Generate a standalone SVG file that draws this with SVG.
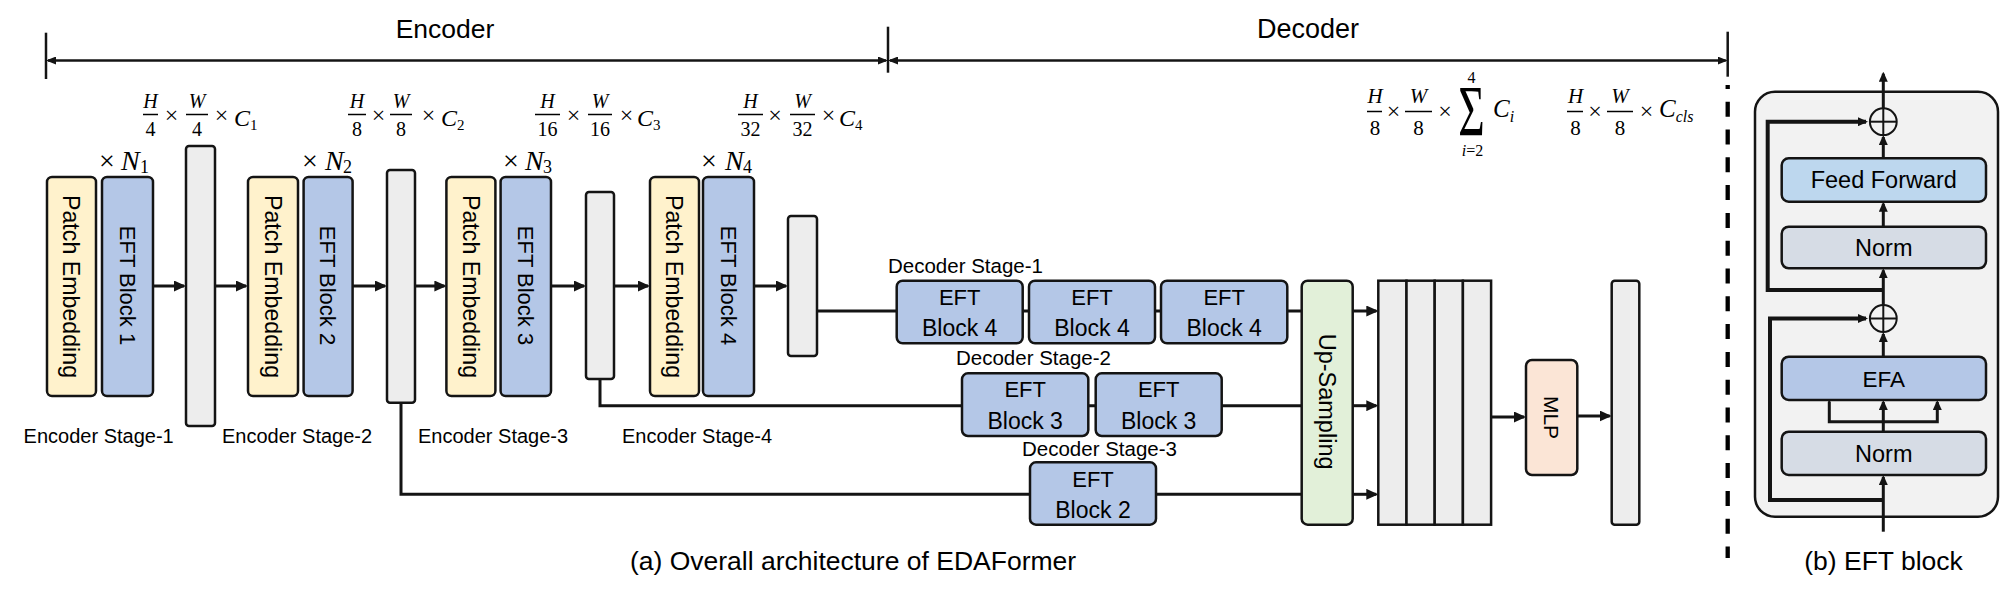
<svg xmlns="http://www.w3.org/2000/svg" width="2000" height="597" viewBox="0 0 2000 597">
<style>
.b{stroke:#141414;stroke-width:2.5}
.pe{fill:#FFF2CC}.eft{fill:#B4C7E7}.feat{fill:#EDEDED}.up{fill:#E2F0D9}.mlp{fill:#FBE5D6}.ff{fill:#BDD7EE}.nrm{fill:#D6DCE5}
.t{font-family:"Liberation Sans",Arial,sans-serif;fill:#000}
.m{font-family:"Liberation Serif","Times New Roman",serif;fill:#000}
.i{font-style:italic}
.c{stroke:#141414;stroke-width:3;fill:none}
.s{stroke:#141414;stroke-width:4;fill:none}
.fr{stroke:#000;stroke-width:1.5}
</style>
<defs>
<marker id="ah" viewBox="0 0 12 11" markerWidth="12" markerHeight="11" refX="10" refY="5.5" orient="auto" markerUnits="userSpaceOnUse"><path d="M0,0 L12,5.5 L0,11 z" fill="#141414"/></marker>
<marker id="as" viewBox="0 0 10 9" markerWidth="10" markerHeight="9" refX="8" refY="4.5" orient="auto" markerUnits="userSpaceOnUse"><path d="M0,0 L10,4.5 L0,9 z" fill="#141414"/></marker>
<marker id="ab" viewBox="0 0 10 8" markerWidth="10" markerHeight="8" refX="8" refY="4" orient="auto-start-reverse" markerUnits="userSpaceOnUse"><path d="M0,0 L10,4 L0,8 z" fill="#141414"/></marker>
</defs>
<rect width="2000" height="597" fill="#fff"/>

<!-- brackets -->
<g id="brackets">
<line x1="46" y1="32.7" x2="46" y2="79" stroke="#141414" stroke-width="2.5"/>
<line x1="888" y1="26.7" x2="888" y2="72.7" stroke="#141414" stroke-width="2.5"/>
<line x1="1727.7" y1="31.7" x2="1727.7" y2="76.7" stroke="#141414" stroke-width="2.5"/>
<line x1="48" y1="60.5" x2="886" y2="60.5" stroke="#141414" stroke-width="2.5" marker-start="url(#ab)" marker-end="url(#ab)"/>
<line x1="890" y1="60.5" x2="1725.7" y2="60.5" stroke="#141414" stroke-width="2.5" marker-start="url(#ab)" marker-end="url(#ab)"/>
<line x1="1727.7" y1="85" x2="1727.7" y2="558" stroke="#000" stroke-width="4.3" stroke-dasharray="15 12.8" stroke-dashoffset="11.1"/>
<text class="t" x="445" y="38" font-size="26.5" text-anchor="middle">Encoder</text>
<text class="t" x="1308" y="38" font-size="27" text-anchor="middle">Decoder</text>
</g>

<!-- connectors -->
<g id="connectors">
<line class="c" x1="153" y1="286" x2="184" y2="286" marker-end="url(#ah)"/>
<line class="c" x1="215" y1="286" x2="246" y2="286" marker-end="url(#ah)"/>
<line class="c" x1="353" y1="286" x2="385" y2="286" marker-end="url(#ah)"/>
<line class="c" x1="415" y1="286" x2="444.4" y2="286" marker-end="url(#ah)"/>
<line class="c" x1="551" y1="286" x2="584" y2="286" marker-end="url(#ah)"/>
<line class="c" x1="614" y1="286" x2="648" y2="286" marker-end="url(#ah)"/>
<line class="c" x1="754" y1="286" x2="786" y2="286" marker-end="url(#ah)"/>
<line class="c" x1="817" y1="311" x2="1301.7" y2="311"/>
<polyline class="c" points="600,379 600,405.7 1301.7,405.7"/>
<polyline class="c" points="401,402.7 401,494.3 1301.7,494.3"/>
<line class="c" x1="1352.7" y1="311" x2="1376.3" y2="311" marker-end="url(#ah)"/>
<line class="c" x1="1352.7" y1="405.7" x2="1376.3" y2="405.7" marker-end="url(#ah)"/>
<line class="c" x1="1352.7" y1="494.3" x2="1376.3" y2="494.3" marker-end="url(#ah)"/>
<line class="c" x1="1491" y1="417" x2="1524" y2="417" marker-end="url(#ah)"/>
<line class="c" x1="1577.3" y1="416" x2="1609.7" y2="416" marker-end="url(#ah)"/>
</g>

<!-- encoder -->
<g id="enc-stage-1">
<rect class="b pe" x="47" y="177" width="49" height="219" rx="5"/>
<text class="t" font-size="23.2" text-anchor="middle" dy="0.35em" transform="translate(71.5,286.5) rotate(90)">Patch Embedding</text>
<rect class="b eft" x="102" y="177" width="51" height="219" rx="5"/>
<text class="t" font-size="22" text-anchor="middle" dy="0.35em" transform="translate(127.5,285.5) rotate(90)">EFT Block 1</text>
<text class="m" x="99" y="170" font-size="28">×<tspan class="i" x="121">N</tspan><tspan font-size="18" x="140" y="173">1</tspan></text>
<text class="t" x="23.6" y="443" font-size="20">Encoder Stage-1</text>
</g>
<g id="feat-1"><rect class="b feat" x="186" y="146" width="29" height="280" rx="3"/></g>

<g id="enc-stage-2">
<rect class="b pe" x="248" y="177" width="50" height="219" rx="5"/>
<text class="t" font-size="23.2" text-anchor="middle" dy="0.35em" transform="translate(273,286.5) rotate(90)">Patch Embedding</text>
<rect class="b eft" x="303.6" y="177" width="49" height="219" rx="5"/>
<text class="t" font-size="22" text-anchor="middle" dy="0.35em" transform="translate(328.1,285.5) rotate(90)">EFT Block 2</text>
<text class="m" x="302" y="170" font-size="28">×<tspan class="i" x="325">N</tspan><tspan font-size="18" x="343" y="173">2</tspan></text>
<text class="t" x="222" y="443" font-size="20">Encoder Stage-2</text>
</g>
<g id="feat-2"><rect class="b feat" x="387" y="170" width="28" height="232.7" rx="3"/></g>

<g id="enc-stage-3">
<rect class="b pe" x="446.4" y="177" width="49" height="219" rx="5"/>
<text class="t" font-size="23.2" text-anchor="middle" dy="0.35em" transform="translate(470.9,286.5) rotate(90)">Patch Embedding</text>
<rect class="b eft" x="500.6" y="177" width="50.4" height="219" rx="5"/>
<text class="t" font-size="22" text-anchor="middle" dy="0.35em" transform="translate(525.8,285.5) rotate(90)">EFT Block 3</text>
<text class="m" x="503" y="170" font-size="28">×<tspan class="i" x="525">N</tspan><tspan font-size="18" x="543" y="173">3</tspan></text>
<text class="t" x="418" y="443" font-size="20">Encoder Stage-3</text>
</g>
<g id="feat-3"><rect class="b feat" x="586" y="192" width="28" height="187" rx="3"/></g>

<g id="enc-stage-4">
<rect class="b pe" x="650" y="177" width="49" height="219" rx="5"/>
<text class="t" font-size="23.2" text-anchor="middle" dy="0.35em" transform="translate(674.5,286.5) rotate(90)">Patch Embedding</text>
<rect class="b eft" x="703" y="177" width="51" height="219" rx="5"/>
<text class="t" font-size="22" text-anchor="middle" dy="0.35em" transform="translate(728.5,285.5) rotate(90)">EFT Block 4</text>
<text class="m" x="701" y="170" font-size="28">×<tspan class="i" x="725">N</tspan><tspan font-size="18" x="743" y="173">4</tspan></text>
<text class="t" x="622" y="443" font-size="20">Encoder Stage-4</text>
</g>
<g id="feat-4"><rect class="b feat" x="788" y="216" width="29" height="140" rx="3"/></g>

<!-- formulas -->
<g id="dim-1">
<text class="m i" x="150.5" y="108" font-size="20" text-anchor="middle">H</text>
<line class="fr" x1="143" y1="114.5" x2="158" y2="114.5"/>
<text class="m" x="150.5" y="136" font-size="20" text-anchor="middle">4</text>
<text class="m" x="171.5" y="123" font-size="24" text-anchor="middle">×</text>
<text class="m i" x="197" y="108" font-size="20" text-anchor="middle">W</text>
<line class="fr" x1="186" y1="114.5" x2="208" y2="114.5"/>
<text class="m" x="197" y="136" font-size="20" text-anchor="middle">4</text>
<text class="m" x="221.5" y="123" font-size="24" text-anchor="middle">×</text>
<text class="m i" x="234" y="126" font-size="24">C<tspan font-style="normal" font-size="15" dy="4">1</tspan></text>
</g>
<g id="dim-2">
<text class="m i" x="357" y="108" font-size="20" text-anchor="middle">H</text>
<line class="fr" x1="348" y1="114.5" x2="366" y2="114.5"/>
<text class="m" x="357" y="136" font-size="20" text-anchor="middle">8</text>
<text class="m" x="378.5" y="123" font-size="24" text-anchor="middle">×</text>
<text class="m i" x="401" y="108" font-size="20" text-anchor="middle">W</text>
<line class="fr" x1="390" y1="114.5" x2="412" y2="114.5"/>
<text class="m" x="401" y="136" font-size="20" text-anchor="middle">8</text>
<text class="m" x="428.5" y="123" font-size="24" text-anchor="middle">×</text>
<text class="m i" x="441" y="126" font-size="24">C<tspan font-style="normal" font-size="15" dy="4">2</tspan></text>
</g>
<g id="dim-3">
<text class="m i" x="547.5" y="108" font-size="20" text-anchor="middle">H</text>
<line class="fr" x1="535" y1="114.5" x2="560" y2="114.5"/>
<text class="m" x="547.5" y="136" font-size="20" text-anchor="middle">16</text>
<text class="m" x="573.5" y="123" font-size="24" text-anchor="middle">×</text>
<text class="m i" x="600" y="108" font-size="20" text-anchor="middle">W</text>
<line class="fr" x1="588" y1="114.5" x2="612" y2="114.5"/>
<text class="m" x="600" y="136" font-size="20" text-anchor="middle">16</text>
<text class="m" x="626.5" y="123" font-size="24" text-anchor="middle">×</text>
<text class="m i" x="637" y="126" font-size="24">C<tspan font-style="normal" font-size="15" dy="4">3</tspan></text>
</g>
<g id="dim-4">
<text class="m i" x="750.5" y="108" font-size="20" text-anchor="middle">H</text>
<line class="fr" x1="738" y1="114.5" x2="763" y2="114.5"/>
<text class="m" x="750.5" y="136" font-size="20" text-anchor="middle">32</text>
<text class="m" x="775" y="123" font-size="24" text-anchor="middle">×</text>
<text class="m i" x="802.5" y="108" font-size="20" text-anchor="middle">W</text>
<line class="fr" x1="790" y1="114.5" x2="815" y2="114.5"/>
<text class="m" x="802.5" y="136" font-size="20" text-anchor="middle">32</text>
<text class="m" x="828.5" y="123" font-size="24" text-anchor="middle">×</text>
<text class="m i" x="839" y="126" font-size="24">C<tspan font-style="normal" font-size="15" dy="4">4</tspan></text>
</g>
<g id="dim-5">
<text class="m i" x="1375" y="103" font-size="21" text-anchor="middle">H</text>
<line class="fr" x1="1367" y1="111.5" x2="1382" y2="111.5"/>
<text class="m" x="1375" y="135" font-size="21" text-anchor="middle">8</text>
<text class="m" x="1393.5" y="119" font-size="24" text-anchor="middle">×</text>
<text class="m i" x="1418.5" y="103" font-size="21" text-anchor="middle">W</text>
<line class="fr" x1="1405" y1="111.5" x2="1432" y2="111.5"/>
<text class="m" x="1418.5" y="135" font-size="21" text-anchor="middle">8</text>
<text class="m" x="1445" y="119" font-size="24" text-anchor="middle">×</text>
<text class="m" x="1471.5" y="83" font-size="16" text-anchor="middle">4</text>
<text class="m" font-size="71" text-anchor="middle" transform="translate(1471.5,135) scale(0.64,1)">Σ</text>
<text class="m" x="1472.5" y="156" font-size="16" text-anchor="middle"><tspan class="i">i</tspan>=2</text>
<text class="m i" x="1493" y="117" font-size="25">C<tspan font-size="16" dy="5">i</tspan></text>
</g>
<g id="dim-6">
<text class="m i" x="1575.5" y="103" font-size="21" text-anchor="middle">H</text>
<line class="fr" x1="1567" y1="111.5" x2="1583" y2="111.5"/>
<text class="m" x="1575.5" y="135" font-size="21" text-anchor="middle">8</text>
<text class="m" x="1595" y="119" font-size="24" text-anchor="middle">×</text>
<text class="m i" x="1620" y="103" font-size="21" text-anchor="middle">W</text>
<line class="fr" x1="1607" y1="111.5" x2="1633" y2="111.5"/>
<text class="m" x="1620" y="135" font-size="21" text-anchor="middle">8</text>
<text class="m" x="1646.5" y="119" font-size="24" text-anchor="middle">×</text>
<text class="m i" x="1659" y="117" font-size="25">C<tspan font-size="16" dy="5">cls</tspan></text>
</g>

<!-- decoder -->
<g id="dec-stage-1">
<text class="t" x="888" y="272.7" font-size="20.5">Decoder Stage-1</text>
<rect class="b eft" x="896.7" y="280.7" width="126" height="62.6" rx="6"/>
<text class="t" x="959.7" y="304.5" font-size="22" text-anchor="middle">EFT</text>
<text class="t" x="959.7" y="336" font-size="23" text-anchor="middle">Block 4</text>
<rect class="b eft" x="1029" y="280.7" width="126" height="62.6" rx="6"/>
<text class="t" x="1092" y="304.5" font-size="22" text-anchor="middle">EFT</text>
<text class="t" x="1092" y="336" font-size="23" text-anchor="middle">Block 4</text>
<rect class="b eft" x="1161" y="280.7" width="126.3" height="62.6" rx="6"/>
<text class="t" x="1224.2" y="304.5" font-size="22" text-anchor="middle">EFT</text>
<text class="t" x="1224.2" y="336" font-size="23" text-anchor="middle">Block 4</text>
</g>
<g id="dec-stage-2">
<text class="t" x="956" y="365" font-size="20.5">Decoder Stage-2</text>
<rect class="b eft" x="962" y="373.3" width="126.3" height="62.7" rx="6"/>
<text class="t" x="1025.2" y="397" font-size="22" text-anchor="middle">EFT</text>
<text class="t" x="1025.2" y="429" font-size="23" text-anchor="middle">Block 3</text>
<rect class="b eft" x="1095.7" y="373.3" width="126" height="62.7" rx="6"/>
<text class="t" x="1158.7" y="397" font-size="22" text-anchor="middle">EFT</text>
<text class="t" x="1158.7" y="429" font-size="23" text-anchor="middle">Block 3</text>
</g>
<g id="dec-stage-3">
<text class="t" x="1022" y="456" font-size="20.5">Decoder Stage-3</text>
<rect class="b eft" x="1030" y="462.3" width="126" height="62.4" rx="6"/>
<text class="t" x="1093" y="486.5" font-size="22" text-anchor="middle">EFT</text>
<text class="t" x="1093" y="517.5" font-size="23" text-anchor="middle">Block 2</text>
</g>
<g id="up-sampling">
<rect class="b up" x="1301.7" y="280.7" width="51" height="244" rx="6"/>
<text class="t" font-size="23.5" text-anchor="middle" dy="0.35em" transform="translate(1327.2,401.6) rotate(90)">Up-Sampling</text>
</g>
<g id="concat-feat">
<rect class="b feat" x="1378.3" y="280.7" width="28.2" height="244"/>
<rect class="b feat" x="1406.5" y="280.7" width="28.2" height="244"/>
<rect class="b feat" x="1434.7" y="280.7" width="28.2" height="244"/>
<rect class="b feat" x="1462.9" y="280.7" width="28.2" height="244"/>
</g>
<g id="mlp">
<rect class="b mlp" x="1526" y="360" width="51.3" height="115" rx="6"/>
<text class="t" font-size="21" text-anchor="middle" dy="0.35em" transform="translate(1551.7,417.5) rotate(90)">MLP</text>
</g>
<g id="out-feat"><rect class="b feat" x="1611.7" y="280.7" width="27.6" height="244" rx="3"/></g>

<text class="t" x="853" y="570" font-size="26.5" text-anchor="middle">(a) Overall architecture of EDAFormer</text>

<!-- EFT block panel -->
<g id="eft-panel">
<rect x="1755" y="91.7" width="243" height="425" rx="20" fill="#F2F2F2" stroke="#141414" stroke-width="2.5"/>
</g>
<g id="eft-connectors">
<line class="c" x1="1883.3" y1="531.7" x2="1883.3" y2="477" marker-end="url(#as)"/>
<polyline class="s" points="1883.3,500 1770,500 1770,318.5 1866,318.5" marker-end="url(#as)"/>
<polyline class="c" points="1829.3,402 1829.3,421.7 1937.3,421.7 1937.3,402" marker-start="url(#as)" marker-end="url(#as)"/>
<line class="c" x1="1883.3" y1="431.7" x2="1883.3" y2="402" marker-end="url(#as)"/>
<line class="c" x1="1883.3" y1="356.7" x2="1883.3" y2="334" marker-end="url(#as)"/>
<line class="c" x1="1883.3" y1="305" x2="1883.3" y2="270.3" marker-end="url(#as)"/>
<polyline class="s" points="1883.3,290 1767.7,290 1767.7,121.7 1866,121.7" marker-end="url(#as)"/>
<line class="c" x1="1883.3" y1="226.7" x2="1883.3" y2="203.7" marker-end="url(#as)"/>
<line class="c" x1="1883.3" y1="158.3" x2="1883.3" y2="137" marker-end="url(#as)"/>
<line class="c" x1="1883.3" y1="108.3" x2="1883.3" y2="73.7" marker-end="url(#as)"/>
</g>
<g id="add-1">
<circle cx="1883.3" cy="121.7" r="13.4" fill="none" stroke="#141414" stroke-width="2"/>
<line x1="1869.9" y1="121.7" x2="1896.7" y2="121.7" stroke="#141414" stroke-width="2"/>
<line x1="1883.3" y1="108.3" x2="1883.3" y2="135.1" stroke="#141414" stroke-width="2"/>
</g>
<g id="add-2">
<circle cx="1883.3" cy="318.5" r="13.4" fill="none" stroke="#141414" stroke-width="2"/>
<line x1="1869.9" y1="318.5" x2="1896.7" y2="318.5" stroke="#141414" stroke-width="2"/>
<line x1="1883.3" y1="305.1" x2="1883.3" y2="331.9" stroke="#141414" stroke-width="2"/>
</g>
<g id="feed-forward">
<rect class="b ff" x="1781.7" y="158.3" width="204.3" height="43.4" rx="7"/>
<text class="t" x="1883.8" y="188.3" font-size="23.5" text-anchor="middle">Feed Forward</text>
</g>
<g id="norm-1">
<rect class="b nrm" x="1781.7" y="226.7" width="204.3" height="41.6" rx="7"/>
<text class="t" x="1883.8" y="255.5" font-size="23.5" text-anchor="middle">Norm</text>
</g>
<g id="efa">
<rect class="b eft" x="1781.7" y="356.7" width="204.3" height="43.3" rx="7"/>
<text class="t" x="1883.8" y="386.7" font-size="22.5" text-anchor="middle">EFA</text>
</g>
<g id="norm-2">
<rect class="b nrm" x="1781.7" y="431.7" width="204.3" height="43.3" rx="7"/>
<text class="t" x="1883.8" y="461.7" font-size="23.5" text-anchor="middle">Norm</text>
</g>
<text class="t" x="1883.5" y="570" font-size="26.5" text-anchor="middle">(b) EFT block</text>
</svg>
